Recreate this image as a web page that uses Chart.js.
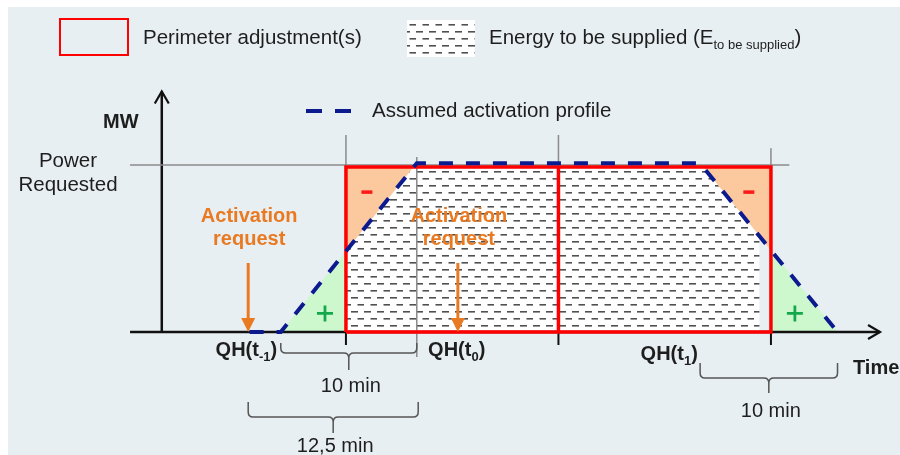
<!DOCTYPE html>
<html>
<head>
<meta charset="utf-8">
<title>Assumed activation profile</title>
<script src="https://cdn.jsdelivr.net/npm/chart.js@4.4.1/dist/chart.umd.min.js"></script>
<style>
  body { margin: 0; background: #fff; }
  canvas { display: block; }
</style>
</head>
<body>
<canvas id="profileChart" width="900" height="455"></canvas>
<script>
// time in minutes (0 = start of QH(t0)), power in % of the requested power
const xRange = [-24.42, 39.11];
const yRange = [-73.65, 198.8];

const qhBounds = [0, 15, 30];
const qhLabelTimes = [-9.2, 5.8, 20.8];
const qhSubs = ['-1', '0', '1'];

const powerRequested = 100;
const perimeterMW = 98.8;

// assumed activation profile (dashed blue)
const profileTimes = [-6.8, -4.6, 5, 25, 34.7];
const profileMW = [0, 0, 101, 101, 0];

// energy to be supplied (hatched)
const energyTimes = [0, 4.79, 25.21, 29.2];
const energyMW = [48.4, 98.8, 98.8, 57.3];

// "+" areas (green) and "-" areas (orange)
const plusLeft = { t: [-4.6, 0], mw: [0, 48.4] };
const plusRight = { t: [30, 34.7], mw: [48.9, 0] };
const minusLeft = { t: [0, 5], mw: [98.8, 98.8] };
const minusRight = { t: [25, 30], mw: [98.8, 98.8] };
const signMinus = { t: [1.48, 28.44], mw: 83.8 };
const signPlus = { t: [-1.48, 31.69], mw: 11.1 };

const requestTimes = [-6.9, 7.9];

// thin grey guide lines
const guideTimes = [[-15.24, 31.3], [0, 0], [15, 15], [30, 30], [5, 5]];
const guideMW = [[100, 100], [0, 118], [0, 118], [0, 110], [-15, 104.8]];

const braceFrom = [-4.6, -6.9, 25];
const braceTo = [5, 5.1, 34.7];
const braceLabels = ['10 min', '12,5 min', '10 min'];

const fontName = '"Liberation Sans", Arial, sans-serif';
const orange = '#e97a22';

function pts(ts, ys) {
    return ts.map((t, i) => ({ x: t, y: Array.isArray(ys) ? ys[i] : ys }));
}

function makeHatch() {
    const c = document.createElement('canvas');
    c.width = 13; c.height = 14;
    const g = c.getContext('2d');
    g.fillStyle = '#ffffff';
    g.fillRect(0, 0, 13, 14);
    g.fillStyle = '#505050';
    g.fillRect(0, 3, 7, 1.6);
    g.fillRect(6.5, 10, 7, 1.6);
    return g.createPattern(c, 'repeat');
}
const hatch = makeHatch();

const datasets = [];
const PROFILE = datasets.push({
    data: pts(profileTimes, profileMW), borderColor: '#0c1a8f', borderWidth: 4,
    borderDash: [14, 13], borderCapStyle: 'butt', fill: false, order: 1
}) - 1;
datasets.push({
    data: pts(plusLeft.t, plusLeft.mw), borderColor: 'transparent',
    backgroundColor: '#cdf8cd', fill: 'origin', order: 7
});
datasets.push({
    data: pts(plusRight.t, plusRight.mw), borderColor: 'transparent',
    backgroundColor: '#cdf8cd', fill: 'origin', order: 7
});
datasets.push({
    data: pts(minusLeft.t, minusLeft.mw), borderColor: 'transparent',
    backgroundColor: '#fcc89d', fill: PROFILE, order: 6
});
datasets.push({
    data: pts(minusRight.t, minusRight.mw), borderColor: 'transparent',
    backgroundColor: '#fcc89d', fill: PROFILE, order: 6
});
const HATCH = datasets.push({
    data: pts(energyTimes, energyMW), borderColor: 'transparent',
    backgroundColor: hatch, fill: 'origin', order: 5
}) - 1;
guideTimes.forEach((ts, i) => {
    datasets.push({
        data: pts(ts, guideMW[i]), borderColor: '#8a8a8a', borderWidth: 1.5,
        fill: false, order: 3
    });
});
datasets.push({
    data: pts([0, 0, 30, 30, 0], [0, perimeterMW, perimeterMW, 0, 0]),
    borderColor: '#ff0000', borderWidth: 3.5, borderJoinStyle: 'miter', fill: false, order: 2
});
datasets.push({
    data: pts([15, 15], [0, perimeterMW]),
    borderColor: '#ff0000', borderWidth: 3.5, fill: false, order: 2
});

function richText(ctx, parts, x, y, align) {
    // parts: [text, size, bold, dy]
    let w = 0;
    parts.forEach(p => {
        ctx.font = (p[2] ? 'bold ' : '') + p[1] + 'px ' + fontName;
        w += ctx.measureText(p[0]).width;
    });
    let cx = align === 'center' ? x - w / 2 : x;
    ctx.textAlign = 'left';
    parts.forEach(p => {
        ctx.font = (p[2] ? 'bold ' : '') + p[1] + 'px ' + fontName;
        ctx.fillText(p[0], cx, y + (p[3] || 0));
        cx += ctx.measureText(p[0]).width;
    });
}

function drawBrace(ctx, x1, x2, top, mid, bottom) {
    const cx = (x1 + x2) / 2, r = 5;
    ctx.beginPath();
    ctx.moveTo(x1, top);
    ctx.lineTo(x1, mid - r);
    ctx.quadraticCurveTo(x1, mid, x1 + r, mid);
    ctx.lineTo(cx - r, mid);
    ctx.quadraticCurveTo(cx, mid, cx, mid + r);
    ctx.lineTo(cx, bottom);
    ctx.moveTo(cx, mid + r);
    ctx.quadraticCurveTo(cx, mid, cx + r, mid);
    ctx.lineTo(x2 - r, mid);
    ctx.quadraticCurveTo(x2, mid, x2, mid - r);
    ctx.lineTo(x2, top);
    ctx.stroke();
}

const diagramPlugin = {
    id: 'diagram',
    beforeDraw(chart) {
        const ctx = chart.ctx;
        ctx.save();
        ctx.fillStyle = '#ffffff';
        ctx.fillRect(0, 0, chart.width, chart.height);
        ctx.fillStyle = '#e8eff2';
        ctx.fillRect(8, 7, chart.width - 8, chart.height - 7);
        ctx.restore();
    },
    afterDatasetDraw(chart, args) {
        if (args.index !== HATCH) return;
        // axes: above the fills, under the perimeter and profile
        const ctx = chart.ctx, X = v => chart.scales.x.getPixelForValue(v), Y = v => chart.scales.y.getPixelForValue(v);
        ctx.save();
        ctx.strokeStyle = '#111';
        ctx.lineWidth = 2.5;
        ctx.beginPath();
        ctx.moveTo(X(-15.24), Y(0)); ctx.lineTo(X(37.7), Y(0));
        ctx.moveTo(X(-13), Y(0)); ctx.lineTo(X(-13), Y(144));
        ctx.stroke();
        ctx.lineWidth = 2.2;
        ctx.beginPath();
        ctx.moveTo(X(37.7) - 12, Y(0) - 7); ctx.lineTo(X(37.7), Y(0)); ctx.lineTo(X(37.7) - 12, Y(0) + 7);
        ctx.moveTo(X(-13) - 7, Y(144) + 12); ctx.lineTo(X(-13), Y(144)); ctx.lineTo(X(-13) + 7, Y(144) + 12);
        ctx.stroke();
        ctx.lineWidth = 2;
        ctx.beginPath();
        qhBounds.forEach(t => { ctx.moveTo(X(t), Y(0)); ctx.lineTo(X(t), Y(0) + 13); });
        ctx.stroke();
        ctx.restore();
    },
    afterDatasetsDraw(chart) {
        const ctx = chart.ctx, X = v => chart.scales.x.getPixelForValue(v), Y = v => chart.scales.y.getPixelForValue(v);
        ctx.save();
        ctx.textBaseline = 'alphabetic';

        // legend
        ctx.strokeStyle = '#ff0000';
        ctx.lineWidth = 2;
        ctx.strokeRect(60, 19, 68, 36);
        ctx.fillStyle = hatch;
        ctx.fillRect(407, 20, 68, 37);
        ctx.fillStyle = '#1e1e1e';
        richText(ctx, [['Perimeter adjustment(s)', 20.5, false]], 143, 44);
        richText(ctx, [['Energy to be supplied (E', 20.5, false], ['to be supplied', 13, false, 5], [')', 20.5, false]], 489, 44);
        ctx.strokeStyle = '#0c1a8f';
        ctx.lineWidth = 4;
        ctx.setLineDash([16, 13]);
        ctx.beginPath(); ctx.moveTo(306, 111); ctx.lineTo(351, 111); ctx.stroke();
        ctx.setLineDash([]);
        richText(ctx, [['Assumed activation profile', 20.5, false]], 372, 117);

        // axis titles
        richText(ctx, [['MW', 20, true]], 103, 128);
        richText(ctx, [['Power', 20.5, false]], 68, 167, 'center');
        richText(ctx, [['Requested', 20.5, false]], 68, 191, 'center');
        richText(ctx, [['Time', 20, true]], 853, 374);

        // quarter-hour labels
        qhLabelTimes.forEach((t, i) => {
            richText(ctx, [['QH(t', 20, true], [qhSubs[i], 13, true, 5], [')', 20, true]], X(t), i === 2 ? 360 : 356);
        });

        // activation requests
        ctx.fillStyle = orange;
        ctx.strokeStyle = orange;
        ctx.lineWidth = 3;
        requestTimes.forEach(t => {
            const x = X(t);
            richText(ctx, [['Activation', 20, true]], x + 1, 222, 'center');
            richText(ctx, [['request', 20, true]], x + 1, 245, 'center');
            ctx.beginPath(); ctx.moveTo(x, 263); ctx.lineTo(x, Y(0) - 12); ctx.stroke();
            ctx.beginPath();
            ctx.moveTo(x - 7, Y(0) - 14); ctx.lineTo(x + 7, Y(0) - 14); ctx.lineTo(x, Y(0));
            ctx.closePath(); ctx.fill();
        });

        // + / - signs
        ctx.fillStyle = '#ff1a1a';
        signMinus.t.forEach(t => ctx.fillRect(X(t) - 5.5, Y(signMinus.mw) - 1.7, 11, 3.5));
        ctx.strokeStyle = '#14a84c';
        ctx.lineWidth = 2.8;
        signPlus.t.forEach(t => {
            const x = X(t), y = Y(signPlus.mw);
            ctx.beginPath();
            ctx.moveTo(x - 8, y); ctx.lineTo(x + 8, y);
            ctx.moveTo(x, y - 8); ctx.lineTo(x, y + 8);
            ctx.stroke();
        });

        // braces
        const rows = [[343, 353, 370, 392], [402, 417, 433, 452], [363, 378, 393, 417]];
        ctx.strokeStyle = '#555';
        ctx.lineWidth = 1.5;
        ctx.fillStyle = '#1e1e1e';
        braceLabels.forEach((lab, i) => {
            const x1 = X(braceFrom[i]), x2 = X(braceTo[i]);
            drawBrace(ctx, x1, x2, rows[i][0], rows[i][1], rows[i][2]);
            richText(ctx, [[lab, 20, false]], (x1 + x2) / 2 + 2, rows[i][3], 'center');
        });
        ctx.restore();
    }
};

new Chart(document.getElementById('profileChart').getContext('2d'), {
    type: 'line',
    data: { datasets: datasets },
    options: {
        responsive: false,
        animation: false,
        layout: { padding: 0 },
        elements: { point: { radius: 0 }, line: { tension: 0 } },
        scales: {
            x: { type: 'linear', min: xRange[0], max: xRange[1], display: false },
            y: { type: 'linear', min: yRange[0], max: yRange[1], display: false }
        },
        plugins: {
            legend: { display: false },
            tooltip: { enabled: false }
        }
    },
    plugins: [diagramPlugin]
});
</script>
</body>
</html>
